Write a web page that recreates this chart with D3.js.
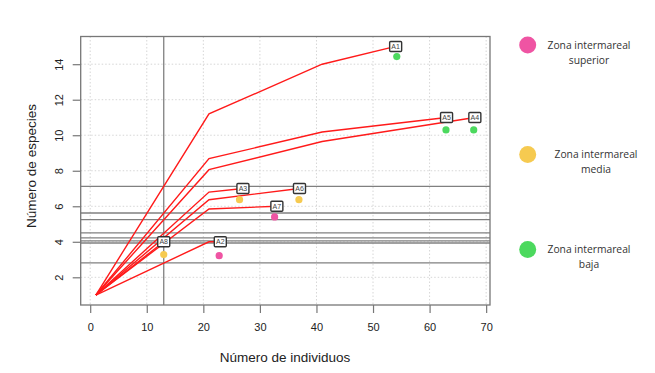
<!DOCTYPE html>
<html>
<head>
<meta charset="utf-8">
<script src="https://cdn.jsdelivr.net/npm/d3@7"></script>
<style>
  body { margin: 0; background: #fff; }
  svg { display: block; }
</style>
</head>
<body>
<div id="chart"></div>
<script>
// curvas de rarefaccion por sitio
const sites = ["A1", "A2", "A3", "A4", "A5", "A6", "A7", "A8"];
const curveX = [
  [1, 21, 41, 54],
  [1, 21, 23],
  [1, 21, 27],
  [1, 21, 41, 68],
  [1, 21, 41, 63],
  [1, 21, 37],
  [1, 21, 33],
  [1, 13]
];
const curveY = [
  [1, 11.2, 14.0, 15],
  [1, 4.0, 4],
  [1, 6.8, 7],
  [1, 8.06, 9.65, 11],
  [1, 8.68, 10.18, 11],
  [1, 6.37, 7],
  [1, 5.85, 6],
  [1, 4]
];
// puntos de color (zona)
const dotX = [54.2, 22.8, 26.4, 67.8, 62.9, 36.9, 32.6, 13];
const dotY = [14.43, 3.22, 6.37, 10.3, 10.3, 6.37, 5.4, 3.28];
const dotZone = ["baja", "superior", "media", "baja", "baja", "media", "superior", "media"];
// lineas de referencia
const refX = [13];
const refY = [7.12, 5.62, 5.25, 4.5, 4.22, 4.05, 3.93, 2.81];

const xTicks = [0, 10, 20, 30, 40, 50, 60, 70];
const yTicks = [2, 4, 6, 8, 10, 12, 14];

const zones = ["superior", "media", "baja"];
const zoneColors = ["#ef54a3", "#f6ca50", "#4cd95e"];
const legendLabels = ["Zona intermareal|superior", "Zona intermareal|media", "Zona intermareal|baja"];

const W = 655, H = 373;
const box = { left: 80.7, right: 490, top: 36.5, bottom: 305 };

const svg = d3.select("#chart").append("svg")
  .attr("width", W).attr("height", H)
  .style("font-family", "'Liberation Sans', Arial, sans-serif");

const x = d3.scaleLinear().domain([-1.68, 70.68]).range([box.left, box.right]);
const y = d3.scaleLinear().domain([0.44, 15.56]).range([box.bottom, box.top]);
const zoneColor = d3.scaleOrdinal().domain(zones).range(zoneColors);

// grid punteada
svg.append("g").selectAll("line").data(xTicks).join("line")
  .attr("x1", d => x(d)).attr("x2", d => x(d))
  .attr("y1", box.top).attr("y2", box.bottom)
  .attr("stroke", "#d6d6d6").attr("stroke-dasharray", "1.5,2").attr("stroke-width", 1);
svg.append("g").selectAll("line").data(yTicks).join("line")
  .attr("y1", d => y(d)).attr("y2", d => y(d))
  .attr("x1", box.left).attr("x2", box.right)
  .attr("stroke", "#d6d6d6").attr("stroke-dasharray", "1.5,2").attr("stroke-width", 1);

// lineas de referencia
svg.append("g").selectAll("line").data(refY).join("line")
  .attr("y1", d => y(d)).attr("y2", d => y(d))
  .attr("x1", box.left).attr("x2", box.right)
  .attr("stroke", "#808080").attr("stroke-width", 1.3);
svg.append("g").selectAll("line").data(refX).join("line")
  .attr("x1", d => x(d)).attr("x2", d => x(d))
  .attr("y1", box.top).attr("y2", box.bottom)
  .attr("stroke", "#808080").attr("stroke-width", 1.3);

// caja
svg.append("rect")
  .attr("x", box.left).attr("y", box.top)
  .attr("width", box.right - box.left).attr("height", box.bottom - box.top)
  .attr("fill", "none").attr("stroke", "#777").attr("stroke-width", 1.3);

// ejes
const xAxis = svg.append("g").attr("transform", `translate(0,${box.bottom})`)
  .call(d3.axisBottom(x).tickValues(xTicks).tickSize(8).tickPadding(10));
const yAxis = svg.append("g").attr("transform", `translate(${box.left},0)`)
  .call(d3.axisLeft(y).tickValues(yTicks).tickSize(8).tickPadding(8));
[xAxis, yAxis].forEach(a => {
  a.select(".domain").remove();
  a.selectAll(".tick line").attr("stroke", "#777").attr("stroke-width", 1.2);
  a.selectAll("text").attr("font-size", 11).attr("fill", "#222")
    .style("font-family", "'Liberation Sans', Arial, sans-serif");
});
yAxis.selectAll(".tick text")
  .attr("text-anchor", "middle").attr("x", null)
  .attr("transform", "translate(-21.5,0) rotate(-90)")
  .attr("dy", "0.35em");

// curvas
const line = d3.line().x(d => x(d[0])).y(d => y(d[1]));
svg.append("g").selectAll("path").data(sites).join("path")
  .attr("d", (s, i) => line(curveX[i].map((v, j) => [v, curveY[i][j]])))
  .attr("fill", "none").attr("stroke", "#ff1a1a").attr("stroke-width", 1.4);

// puntos
svg.append("g").selectAll("circle").data(sites).join("circle")
  .attr("cx", (s, i) => x(dotX[i])).attr("cy", (s, i) => y(dotY[i]))
  .attr("r", 3.6).attr("fill", (s, i) => zoneColor(dotZone[i]));

// etiquetas
const lab = svg.append("g").selectAll("g").data(sites).join("g")
  .attr("transform", (s, i) => {
    const n = curveX[i].length - 1;
    return `translate(${x(curveX[i][n])},${y(curveY[i][n])})`;
  });
lab.append("rect")
  .attr("x", -6).attr("y", -5).attr("width", 12).attr("height", 10).attr("rx", 1)
  .attr("fill", "#fff").attr("stroke", "#333").attr("stroke-width", 1.4);
lab.append("text").text(d => d)
  .attr("text-anchor", "middle").attr("dy", "0.35em")
  .attr("font-size", 7).attr("fill", "#444");

// titulos de ejes
svg.append("text").text("Número de individuos")
  .attr("x", 285).attr("y", 362).attr("text-anchor", "middle")
  .attr("font-size", 13.5).attr("fill", "#222");
svg.append("text").text("Número de especies")
  .attr("transform", "translate(36,166) rotate(-90)")
  .attr("text-anchor", "middle").attr("font-size", 13.5).attr("fill", "#222");

// leyenda
const legY = [45, 154.5, 249.5];
const legTextX = [589, 596, 589];
const leg = svg.append("g").selectAll("g").data(zones).join("g");
leg.append("circle")
  .attr("cx", 527.7).attr("cy", (d, i) => legY[i]).attr("r", 8.5)
  .attr("fill", d => zoneColor(d));
leg.each(function (d, i) {
  const parts = legendLabels[i].split("|");
  const t = d3.select(this).append("text")
    .attr("text-anchor", "middle").attr("font-size", 10.3).attr("fill", "#333")
    .style("font-family", "'Open Sans', 'Noto Sans', sans-serif");
  parts.forEach((p, k) => {
    t.append("tspan").text(p).attr("x", legTextX[i]).attr("y", legY[i] + 3.5 + k * 15);
  });
});
</script>
</body>
</html>
